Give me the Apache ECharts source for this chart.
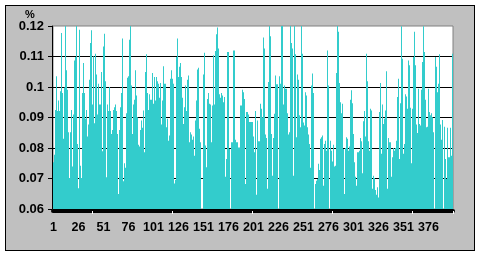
<!DOCTYPE html>
<html><head><meta charset="utf-8">
<script src="https://cdn.jsdelivr.net/npm/echarts@6/dist/echarts.min.js"></script>
<style>
html,body{margin:0;padding:0;background:#fff;width:481px;height:256px;overflow:hidden}
#frame{position:absolute;left:5px;top:5px;width:468px;height:244px;border:1px solid #000;background:#c0c0c0}
#chart{position:absolute;left:0;top:0;width:481px;height:256px}
</style></head><body>
<div id="frame"></div><div id="chart"></div>
<script>
// values, bars 1..400
var valuesA = [0.0753,0.0778,0.0925,0.1035,0.0921,0.0956,0.0921,0.0986,0.1177,0.0980,
0.0830,0.0998,0.1200,0.1055,0.0991,0.0852,0.0702,0.0852,0.0925,0.0739,
0.0910,0.1087,0.1098,0.1200,0.0813,0.0668,0.1188,0.0742,0.0702,0.0980,
0.1079,0.0980,0.0896,0.0925,0.0838,0.0877,0.1024,0.1144,0.1186,0.0943,
0.1101,0.0881,0.1109,0.1041,0.0910,0.1011,0.0943,0.0943,0.1049,0.0789,
0.1133,0.1175,0.1019,0.0704,0.0943,0.0921,0.1000,0.0921,0.0846,0.0859,
0.0925,0.0934,0.0943,0.0921,0.0846];
var valuesB = [0.0649,0.0859,0.0934,0.0980,0.1159,0.0691,0.0750,0.0735,0.0914,0.1030,
0.1035,0.1155,0.1200,0.1005,0.0846,0.0943,0.0958,0.1055,0.0972,0.0901,
0.0811,0.0805,0.0859,0.0890,0.0866,0.0923,0.0786,0.1049,0.1107,0.0980,
0.0925,0.0976,0.0958,0.0958,0.1046,0.0945,0.1033,0.0956,0.1033,0.1019,
0.1011,0.0965,0.1013,0.0877,0.0956,0.1068,0.1011,0.1011,0.0868,0.0896,
0.0824,0.0841,0.1027,0.1055,0.1027,0.1011,0.0684,0.0695,0.1098,0.1159,
0.1033,0.1066,0.1079,0.1033,0.0965,0.0879,0.0934,0.1005];
var valuesC = [0.0921,0.1024,0.1038,0.0819,0.0852,0.0844,0.0827,
0.0838,0.0775,0.0890,0.0956,0.1057,0.1063,0.0863,0.0819,0.0590,0.0590,
0.1041,0.1112,0.0808,0.0737,0.0961,0.0980,0.0945,0.0943,0.0819,0.0939,
0.1104,0.0943,0.1118,0.1173,0.1195,0.1126,0.0976,0.0965,0.0980,0.0972,
0.0950,0.0967,0.0706,0.0764,0.1115,0.1115,0.0797,0.0590,0.0819,0.0819,
0.1120,0.1120,0.0827,0.0819,0.0819,0.0802,0.0802,0.0939,0.0939,0.0991,
0.0983,0.0961,0.0682,0.0918,0.0918,0.0910,0.0885,0.0885];
var valuesD = [0.0885,0.0885,0.0838,0.0786,0.0921,0.0647,0.0890,0.0822,0.0822,0.0945,0.0929,0.0901,
0.1162,0.1126,0.0844,0.0833,0.0666,0.1016,0.1200,0.1166,0.0846,0.0709,
0.0833,0.0912,0.1038,0.1009,0.1009,0.0590,0.1035,0.1011,0.1200,0.1200,
0.0943,0.1005,0.0994,0.0994,0.0914,0.0844,0.0852,0.1200,0.1144,0.1126,
0.0709,0.1200,0.1107,0.0835,0.1041,0.1024,0.0907,0.0868,0.1200,0.1109,
0.0884,0.0874,0.0983,0.0972,0.0868,0.0844,0.0813,0.0735,0.1005,0.1044,
0.0980,0.0590,0.0682,0.0693,0.0698];
var valuesE = [0.0748,0.0728,0.0830,0.0835,0.0841,
0.0676,0.0813,0.0824,0.0791,0.1120,0.1005,0.0590,0.0824,0.0791,0.0756,
0.0811,0.0739,0.0742,0.1046,0.1200,0.1181,0.1013,0.0950,0.0914,0.0945,
0.0797,0.0649,0.0800,0.0835,0.0830,0.0791,0.0805,0.0958,0.0989,0.0947,
0.0846,0.0753,0.0706,0.0676,0.0786,0.0786,0.0791,0.0833,0.0822,0.0717,
0.0888,0.0921,0.0838,0.1109,0.1019,0.0822,0.0791,0.0929,0.0923,0.0666,
0.0709,0.0702,0.0662,0.0647,0.0671,0.0638,0.0918,0.1013,0.0781,0.0943,
0.0879];
var valuesF = [0.0896,0.0923,0.1052,0.0666,0.0833,0.0819,0.0819,0.0706,0.0770,
0.0800,0.0791,0.0800,0.0824,0.0967,0.1027,0.0764,0.0947,0.1199,0.1093,
0.0781,0.0813,0.0976,0.0969,0.0929,0.1087,0.1071,0.0932,0.0750,0.0929,
0.1098,0.1181,0.1071,0.0877,0.0849,0.0994,0.0879,0.0874,0.0991,0.1082,
0.1199,0.1115,0.0958,0.0868,0.0870,0.0994,0.0918,0.0907,0.0914,0.0901,
0.0852,0.0590,0.1098,0.1066,0.0983,0.1011,0.1107,0.0877,0.0827,0.0892,
0.0590,0.0870,0.0764,0.0698,0.0866,0.0770,0.0770,0.0866,0.0775,0.1109];
var values = valuesA.concat(valuesB, valuesC, valuesD, valuesE, valuesF);

var categories = [];
for (var i = 1; i <= values.length; i++) categories.push(String(i));

var yTickValues = [0.06, 0.07, 0.08, 0.09, 0.10, 0.11, 0.12];
var yTickLabels = ['0.06', '0.07', '0.08', '0.09', '0.1', '0.11', '0.12'];
var unitLabel = '%';

var chart = echarts.init(document.getElementById('chart'), null, {renderer: 'canvas'});
chart.setOption({
  animation: false,
  backgroundColor: 'transparent',
  title: {
    text: unitLabel, left: 25, top: 9, padding: 0,
    textStyle: {fontSize: 11, fontWeight: 'bold', color: '#000', fontFamily: 'Liberation Sans, Arial, sans-serif'}
  },
  grid: {
    left: 53, right: 28, top: 26, bottom: 47,
    show: true, backgroundColor: '#fff', borderColor: '#808080', borderWidth: 1,
    containLabel: false, outerBoundsMode: 'none'
  },
  xAxis: {
    type: 'category', data: categories, boundaryGap: true, offset: 2,
    axisLine: {show: true, lineStyle: {color: '#000', width: 4}},
    axisTick: {show: true, length: 3, lineStyle: {color: '#fff', width: 1},
      interval: function (idx) { return idx % 80 === 39; }},
    axisLabel: {interval: 24, color: '#000', fontWeight: 'bold', fontSize: 12.5, margin: 10,
      fontFamily: '"Liberation Sans Narrow", "Liberation Sans", Arial, sans-serif'},
    splitLine: {show: false}
  },
  yAxis: {
    type: 'value', min: yTickValues[0], max: yTickValues[yTickValues.length - 1], interval: 0.01, offset: 1,
    axisLine: {show: true, lineStyle: {color: '#000', width: 1}},
    axisTick: {show: true, length: 4, lineStyle: {color: '#000'}},
    axisLabel: {color: '#000', fontWeight: 'bold', fontSize: 13, margin: 8,
      fontFamily: '"Liberation Sans", Arial, sans-serif',
      formatter: function (v) { return yTickLabels[Math.round((v - yTickValues[0]) * 100)]; }},
    splitLine: {show: true, showMinLine: false, showMaxLine: false, lineStyle: {color: '#000', width: 1}}
  },
  series: [{
    type: 'bar', data: values, barWidth: '100%', barCategoryGap: '0%', barGap: '0%',
    itemStyle: {color: '#33CCCC'}, clip: true, silent: true
  }]
});
</script></body></html>
